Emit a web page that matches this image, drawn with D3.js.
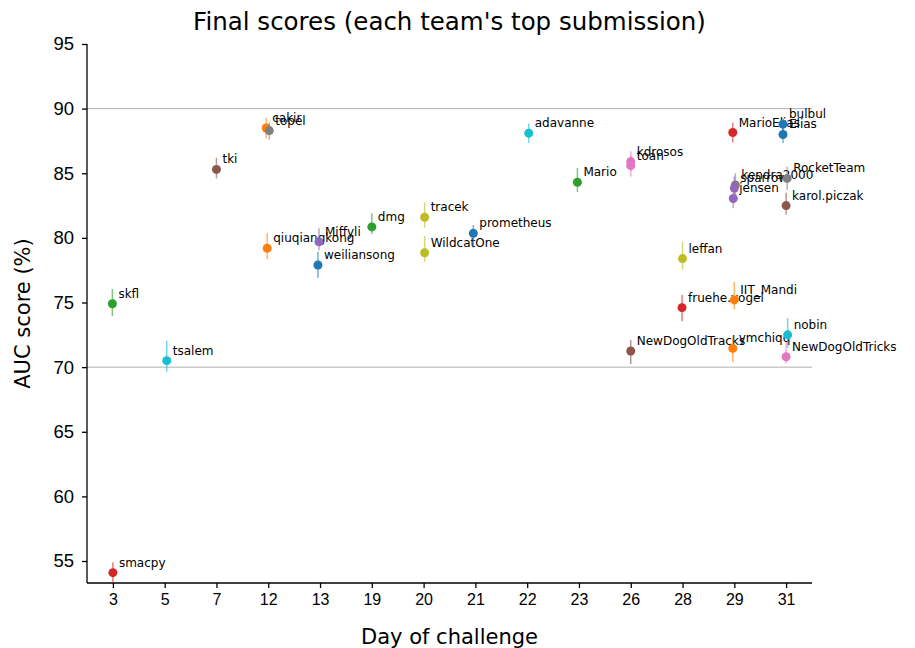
<!DOCTYPE html>
<html>
<head>
<meta charset="utf-8">
<script src="https://cdn.jsdelivr.net/npm/d3@7"></script>
<style>
    body { margin: 0; background: #fff; }
    svg { font-family: 'DejaVu Sans', sans-serif; }
    .axis path, .axis line { stroke: #000; stroke-width: 1.3; }
    .axis text { fill: #000; }
</style>
</head>
<body>
<script>
'use strict';

// days shown on the x axis
var dayTicks = [3, 5, 7, 12, 13, 19, 20, 21, 22, 23, 26, 28, 29, 31];

// one entry per team, in drawing order
var teams = ['smacpy', 'skfl', 'tsalem', 'tki', 'cakir', 'topel', 'qiuqiangkong',
    'Miffyli', 'weiliansong', 'dmg', 'tracek', 'WildcatOne', 'prometheus',
    'adavanne', 'Mario', 'kdrosos', 'toan', 'NewDogOldTracks', 'leffan',
    'fruehe.vogel', 'MarioElias', 'kendra2000', 'sparrow', 'jensen', 'IIT_Mandi',
    'ymchiqq', 'bulbul', 'Elias', 'RocketTeam', 'karol.piczak', 'nobin',
    'NewDogOldTricks'];
var days = [3, 3, 5, 7, 12, 12, 12, 13, 13, 19, 20, 20, 21, 22, 23, 26, 26, 26,
    28, 28, 29, 29, 29, 29, 29, 29, 31, 31, 31, 31, 31, 31];
// small sideways shift of each marker, in days-slot units
var jitter = [0, -0.01, 0.04, 0, -0.04, 0.02, -0.02, -0.02, -0.04, 0, 0.02, 0.02,
    -0.04, 0.03, -0.03, 0, 0, 0, 0, -0.01, -0.03, 0.02, 0, -0.02, 0, -0.03,
    -0.06, -0.06, 0.02, 0, 0.03, 0];
var scores = [54.1, 74.9, 70.5, 85.3, 88.5, 88.3, 79.2, 79.7, 77.9, 80.85, 81.6,
    78.85, 80.35, 88.1, 84.3, 85.9, 85.6, 71.25, 78.4, 74.6, 88.15, 84.1, 83.85,
    83.05, 75.2, 71.45, 88.8, 88.0, 84.6, 82.5, 72.5, 70.8];
var errLow = [0.8, 0.95, 0.85, 0.7, 0.8, 0.7, 0.85, 0.65, 1.0, 0.55, 0.8, 0.7,
    1.1, 0.75, 0.75, 0.7, 0.85, 1.0, 0.85, 1.05, 0.75, 0.8, 0.7, 0.75, 0.75, 1.05,
    0.6, 0.65, 0.9, 0.7, 1.0, 0.5];
var errHigh = [0.8, 1.15, 1.55, 0.9, 0.8, 0.65, 1.15, 1.05, 1.0, 1.05, 1.15, 1.3,
    0.65, 0.75, 1.1, 0.8, 0.8, 0.85, 1.3, 1.0, 0.75, 0.9, 0.9, 0.65, 1.4, 0.9,
    0.45, 0.6, 0.9, 1.0, 1.3, 1.15];
// index into the category10 palette
var hue = [3, 2, 9, 5, 1, 7, 1, 4, 0, 2, 8, 8, 0, 9, 2, 6, 6, 5, 8, 3, 3, 7, 4, 4,
    1, 1, 0, 0, 7, 5, 9, 6];
var yTicks = [55, 60, 65, 70, 75, 80, 85, 90, 95];
var refLines = [70, 90];

var width = 915;
var height = 648;
var margin = {top: 44, right: 103, bottom: 65, left: 87};
var palette = d3.schemeCategory10;

document.addEventListener('DOMContentLoaded', function() {
    drawChart();
});

function drawChart() {
    var innerW = width - margin.left - margin.right;
    var innerH = height - margin.top - margin.bottom;

    var points = teams.map(function(t, i) {
        return {team: t, day: days[i], shift: jitter[i], score: scores[i],
            lo: errLow[i], hi: errHigh[i], color: palette[hue[i]]};
    });

    // x is one slot per challenge day
    var x = d3.scalePoint()
        .domain(dayTicks)
        .range([0, innerW])
        .padding(0.5);

    var y = d3.scaleLinear()
        .domain([53.3, 95])
        .range([innerH, 0]);

    var svg = d3.select('body').append('svg')
        .attr('width', width)
        .attr('height', height);

    var canvas = svg.append('g')
        .attr('transform', 'translate(' + margin.left + ',' + margin.top + ')');

    // reference lines
    canvas.selectAll('.ref')
        .data(refLines)
        .enter().append('line')
        .attr('class', 'ref')
        .attr('x1', 0)
        .attr('x2', innerW)
        .attr('y1', function(d) { return y(d); })
        .attr('y2', function(d) { return y(d); })
        .attr('stroke', '#b0b0b0')
        .attr('stroke-width', 1);

    // axes
    var xAxis = canvas.append('g')
        .attr('class', 'axis')
        .attr('transform', 'translate(0,' + innerH + ')')
        .call(d3.axisBottom(x).tickSize(5).tickPadding(6).tickSizeOuter(0));
    xAxis.selectAll('text').style('font-size', '16px');
    xAxis.select('.domain').attr('d', 'M0,0H' + innerW);

    var yAxis = canvas.append('g')
        .attr('class', 'axis')
        .call(d3.axisLeft(y).tickValues(yTicks).tickSize(5).tickPadding(8)
            .tickSizeOuter(0));
    yAxis.selectAll('text').style('font-size', '18.5px');
    yAxis.select('.domain').attr('d', 'M0,0V' + innerH);

    // markers with error bars
    var step = x.step();
    var marks = canvas.selectAll('.mark')
        .data(points)
        .enter().append('g')
        .attr('class', 'mark')
        .attr('transform', function(d) {
            return 'translate(' + (x(d.day) + d.shift * step) + ',0)';
        });

    marks.append('line')
        .attr('y1', function(d) { return y(d.score + d.hi); })
        .attr('y2', function(d) { return Math.min(innerH, y(d.score - d.lo)); })
        .attr('stroke', function(d) { return d.color; })
        .attr('stroke-opacity', 0.6)
        .attr('stroke-width', 1.5);

    marks.append('circle')
        .attr('cy', function(d) { return y(d.score); })
        .attr('r', 4.5)
        .attr('fill', function(d) { return d.color; });

    marks.append('text')
        .attr('x', 6)
        .attr('y', function(d) { return y(d.score) - 6; })
        .style('font-size', '12px')
        .attr('fill', '#000')
        .text(function(d) { return d.team; });

    // titles
    svg.append('text')
        .attr('x', margin.left + innerW / 2)
        .attr('y', 30)
        .attr('text-anchor', 'middle')
        .style('font-size', '24.5px')
        .text("Final scores (each team's top submission)");

    svg.append('text')
        .attr('x', margin.left + innerW / 2)
        .attr('y', 644)
        .attr('text-anchor', 'middle')
        .style('font-size', '21px')
        .text('Day of challenge');

    svg.append('text')
        .attr('transform', 'translate(30,' + (margin.top + innerH / 2) + ') rotate(-90)')
        .attr('text-anchor', 'middle')
        .style('font-size', '21px')
        .text('AUC score (%)');
}
</script>
</body>
</html>
